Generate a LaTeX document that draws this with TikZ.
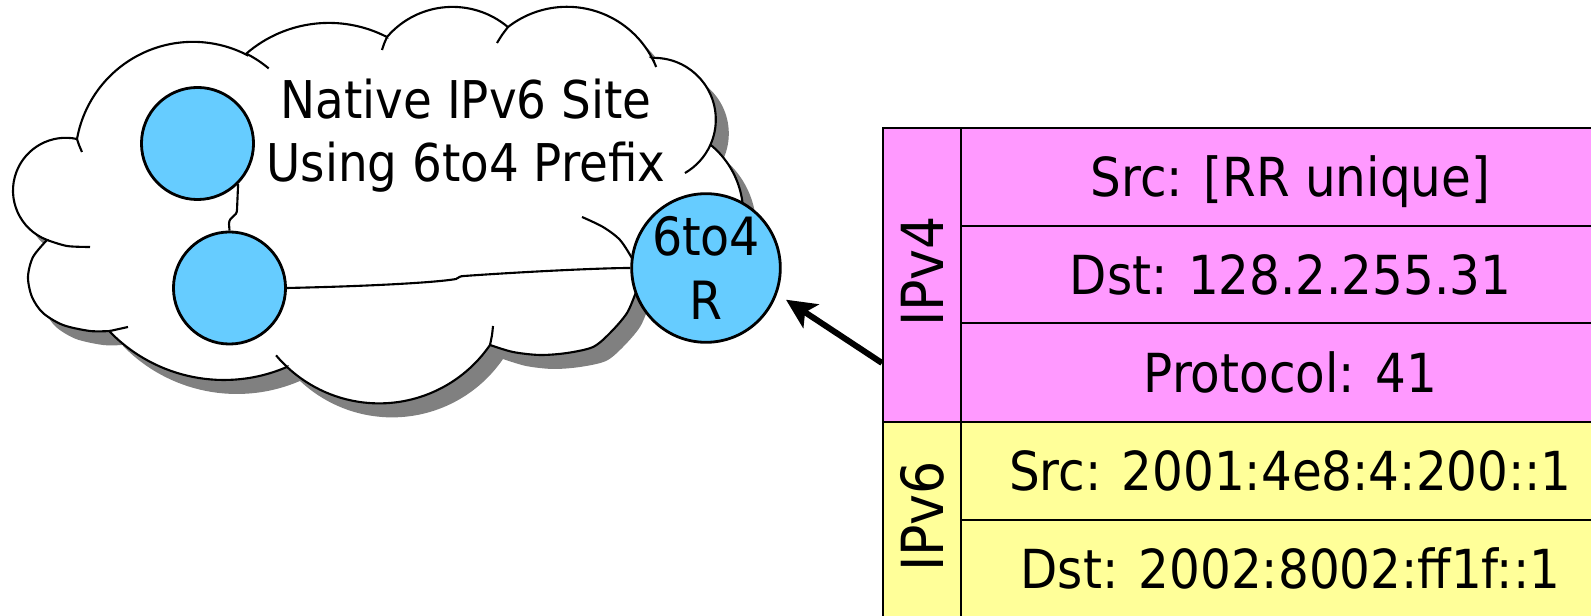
\documentclass[tikz,border=0pt]{standalone}
\usepackage{fontspec}
\usetikzlibrary{arrows.meta}
\newfontfamily\siteFont{DejaVu Sans Condensed}
\definecolor{hostBlue}{HTML}{66CCFF}
\definecolor{vfourPink}{HTML}{FF99FF}
\definecolor{vsixYellow}{HTML}{FFFF99}
\definecolor{shadowGray}{HTML}{808080}
\newcommand{\cloudOutline}{(77,139) arc[start angle=190.1,end angle=297.3,radius=117.8]
 -- ([shift={(229.6:126.4)}]328.9,149.3) arc[start angle=229.6,end angle=297.4,radius=126.4]
 -- ([shift={(220.6:86.2)}]452.5,93.1) arc[start angle=220.6,end angle=310,radius=86.2]
 -- ([shift={(232.2:96.2)}]567,103) arc[start angle=232.2,end angle=332.1,radius=96.2]
 -- ([shift={(268:61.7)}]654.1,119.6) arc[start angle=268,end angle=384.5,radius=61.7]
 -- ([shift={(310.5:89)}]654.2,213.7) arc[start angle=310.5,end angle=380,radius=89]
 -- plot[smooth] coordinates {(645,275) (637,290) (627,313) (610,333) (593,347) (567,353) (540,355) (513,352) (490,345)}
 -- ([shift={(34.5:134.5)}]379.1,268.9) arc[start angle=34.5,end angle=133.2,radius=134.5]
 -- ([shift={(66.6:159)}]223.9,221) arc[start angle=66.6,end angle=135.7,radius=159]
 -- plot[smooth] coordinates {(110,331) (90,331) (63,325) (43,313) (32,297) (28,277) (33,257) (47,240)}
 -- ([shift={(110.8:52.8)}]65.8,190.6) arc[start angle=110.8,end angle=282.2,radius=52.8]
 -- cycle}
\begin{document}
\begin{tikzpicture}[x=0.01cm,y=-0.01cm,
    cloudLine/.style={line width=0.6pt},
    hostNode/.style={circle,draw,fill=hostBlue,line width=0.8pt,minimum size=1.12cm,inner sep=0pt},
    routerNode/.style={hostNode,minimum size=1.44cm,align=center,font={\siteFont\fontsize{15}{18}\selectfont}},
    cellText/.style={font={\siteFont\fontsize{15.3}{18}\selectfont},text height=11.2pt,text depth=0pt,inner sep=0pt},
    layerText/.style={rotate=90,xshift=0.035cm,font={\siteFont\fontsize{16.5}{18}\selectfont},text height=12pt,text depth=0pt,inner sep=0pt},
    vfourCell/.style={draw,fill=vfourPink,line width=0.8pt},
    vsixCell/.style={draw,fill=vsixYellow,line width=0.8pt},
    pktArrow/.style={-{Stealth[length=8.5pt,width=8pt,inset=2pt]},line width=1.7pt,shorten >=3pt}]
    \useasboundingbox (0,0) rectangle (1591,616);
    \fill [shadowGray,shift={(13,14)}] \cloudOutline;
    \filldraw [cloudLine,fill=white] \cloudOutline;
    \draw [cloudLine] plot[smooth] coordinates {(77,139) (79,145) (82,152)}
        ([shift={(297.3:117.8)}]193,158.7) arc[start angle=297.3,end angle=310,radius=117.8]
        plot[smooth] coordinates {(387,37) (384,44) (382,50)}
        plot[smooth] coordinates {(508,27) (502,35) (497,43)}
        ([shift={(332.1:96.2)}]567,103) arc[start angle=332.1,end angle=338,radius=96.2]
        ([shift={(24.5:61.7)}]654.1,119.6) arc[start angle=24.5,end angle=60,radius=61.7]
        plot[smooth] coordinates {(640,275) (633,260) (620,240) (603,227) (582,217)}
        plot[smooth] coordinates {(490,345) (492,335) (493,326)}
        ([shift={(133.2:134.5)}]379.1,268.9) arc[start angle=133.2,end angle=140,radius=134.5]
        plot[smooth] coordinates {(110,331) (119,329) (128,327)}
        plot[smooth] coordinates {(47,240) (67,246) (90,247)};
    \node [hostNode] (hostTop) at (197.5,143.5) {};
    \node [hostNode] (hostLow) at (229.5,288) {};
    \node [routerNode] (router) at (706,268) {6to4\\R};
    \draw [cloudLine] (hostTop.-45) -- (237,210) .. controls (237,217) and (229,216) .. (229,224) -- (hostLow.north);
    \draw [cloudLine] (hostLow.east) .. controls (380,286) and (440,282) .. (456,279) .. controls (459,278) and (459,276) .. (464,276) .. controls (520,272) and (600,268) .. (router.west);
    \node [align=center,anchor=north,inner sep=0pt,font={\siteFont\fontsize{14.8}{18.1}\selectfont}] (siteLabel) at (466,78) {Native IPv6 Site\\Using 6to4 Prefix};
    \foreach \ya/\yb/\txt/\nm in {128/226/{Src: [RR unique]}/vfourSrc,226/323/{Dst: 128.2.255.31}/vfourDst,323/422/{Protocol: 41}/vfourProto}
    {
    \draw [vfourCell] (961,\ya) rectangle node [cellText] (\nm) {\txt} (1620,\yb);
    }
    \foreach \ya/\yb/\txt/\nm in {422/520/{Src: 2001:4e8:4:200::1}/vsixSrc,520/618/{Dst: 2002:8002:ff1f::1}/vsixDst}
    {
    \draw [vsixCell] (961,\ya) rectangle node [cellText] (\nm) {\txt} (1620,\yb);
    }
    \draw [vfourCell] (883,128) rectangle node [layerText] (vfourLabel) {IPv4} (961,422);
    \draw [vsixCell] (883,422) rectangle node [layerText] (vsixLabel) {IPv6} (961,618);
    \coordinate (arrowTail) at (882,363);
    \draw [pktArrow] (arrowTail) -- (router.-20);
\end{tikzpicture}
\end{document}
